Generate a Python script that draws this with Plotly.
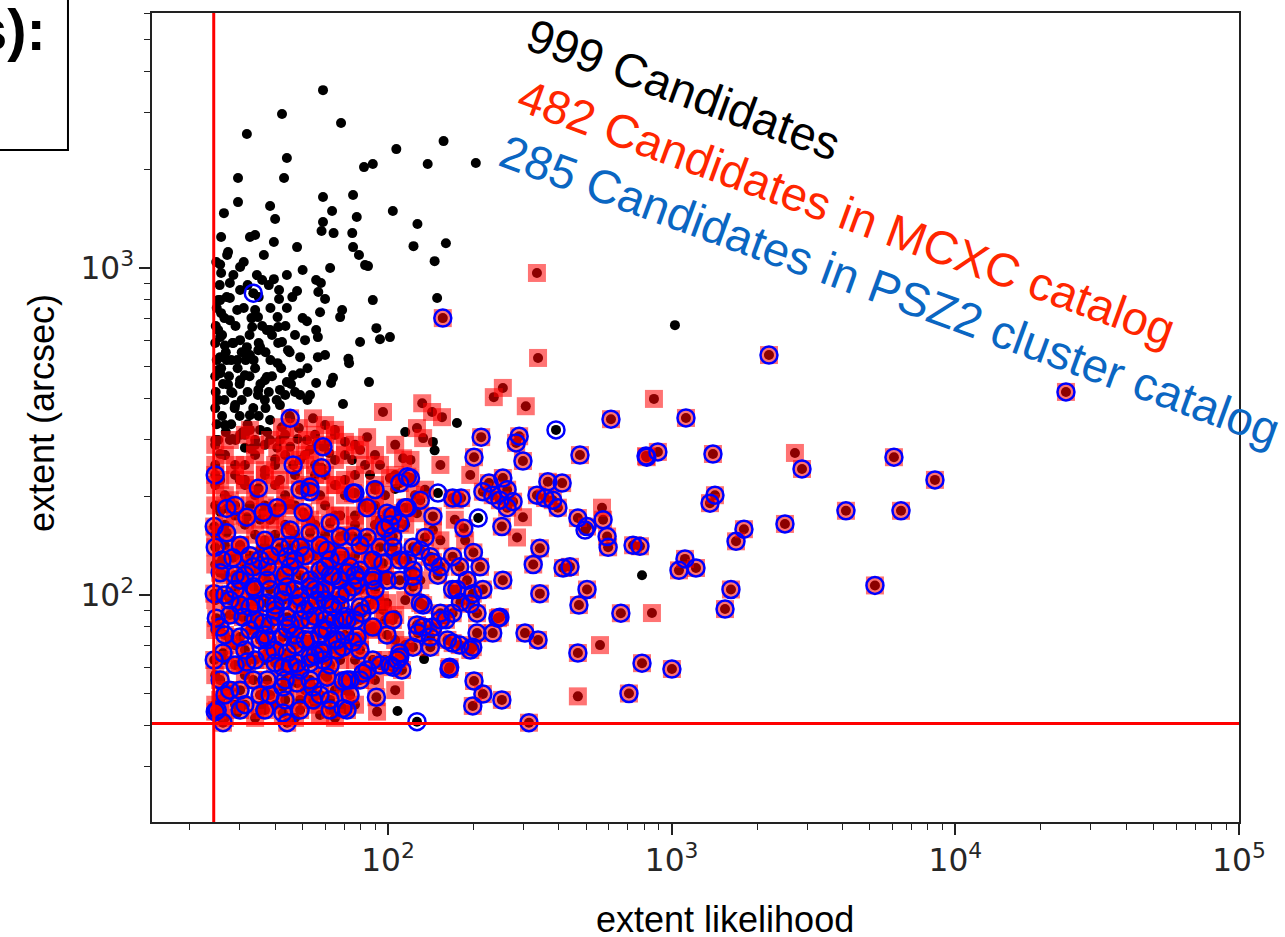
import plotly.graph_objects as go

# Selection thresholds
LIK_CUT = 24.3
EXT_CUT = 40.5

# (extent likelihood, extent [arcsec]) of candidates in neither catalogue
other = [
    (59, 3500), (42.3, 2958), (68.3, 2776), (31.8, 2569), (157, 2445), (107, 2311), (44, 2170),
    (82.3, 2036), (88.4, 2080), (138, 2080), (204, 2095), (29.6, 1885), (43, 1885), (59, 1649),
    (75.3, 1672), (29.6, 1591), (38.4, 1548), (63.5, 1494), (104, 1494), (26.4, 1472), (40, 1412),
    (77.6, 1432), (127, 1364), (59, 1383), (58.3, 1298), (64.3, 1279), (74.8, 1279), (25.8, 1244),
    (32.6, 1244), (34, 1262), (39.6, 1201), (123, 1167), (160, 1191), (75.3, 1159), (79, 1096),
    (85, 1014), (47.8, 1159), (27.3, 1119), (146, 1050), (30.1, 1007), (62.5, 1000), (50, 986),
    (25.8, 966), (39.6, 925), (55.8, 919), (58, 900), (27.7, 900), (41.3, 857), (47.8, 851),
    (41.3, 804), (56.8, 845), (60, 804), (88.4, 798), (25.6, 798), (27.7, 810), (29.4, 744),
    (25.8, 728), (40.8, 708), (34.8, 708), (68.9, 744), (67.8, 708), (57.6, 733), (51.8, 688),
    (91, 655), (101.6, 615), (93.7, 606), (33.2, 660), (37.4, 646), (41, 660), (55.8, 646),
    (56.6, 615), (79.7, 594), (25.6, 615), (28.3, 590), (31.8, 573), (35.4, 573), (42.3, 594),
    (44.4, 561), (25.6, 534), (29.4, 523), (33.6, 523), (40.8, 512), (49, 534), (56.6, 534),
    (60, 542), (72.9, 512), (49, 477), (25.6, 477), (30.1, 454), (37.4, 464), (44, 448),
    (55.8, 445), (63, 445), (85.7, 448), (28.3, 415), (34.8, 409), (41.6, 424), (53.1, 409),
    (83, 1021), (149, 810), (72.5, 528), (64, 462), (69.4, 384), (175, 336), (115, 315),
    (144, 294), (146, 277), (74.7, 259), (86.4, 233), (106, 211), (1027, 669), (786, 115),
    (134, 63.7), (108, 44.2), (29.4, 43.6), (36.3, 46.2),
    (35.4, 137), (45.2, 190), (28.3, 300), (33, 280), (40, 260), (25.6, 270), (48, 300),
    (56, 290), (62, 272), (30, 225), (25.6, 180),
    (25.2, 646), (26.6, 580), (28, 523), (30.1, 602), (32.6, 542), (25.2, 488), (27.3, 440),
    (31.3, 470), (34.9, 424), (25.2, 395), (28.9, 381), (32.6, 355), (36.8, 395), (38.4, 343),
    (26.6, 331), (30.1, 309), (25.2, 298), (35.4, 320), (43.4, 409), (41.6, 298), (49, 409),
    (36.8, 454), (34.9, 561), (38.4, 646), (27.7, 693), (34, 744), (25.2, 798), (30.1, 857),
    (36, 919), (25.6, 1026), (46.3, 470), (51, 602), (41.6, 381), (26.6, 268), (31.3, 282),
    (36.8, 288),
    (27.1, 1096), (36.5, 1096), (24.8, 1043), (31, 1043), (28.5, 952), (34.5, 952), (44, 952),
    (25.5, 887), (32, 887), (38, 887), (27, 815), (35, 815), (46, 815), (24.9, 755), (31, 755),
    (38.5, 755), (44, 755), (26.5, 703), (33, 703), (50, 703), (24.7, 665), (29, 665), (36, 665),
    (43.5, 665), (26, 624), (32.5, 624), (39, 624), (47, 624), (24.6, 590), (28.5, 590),
    (35, 590), (41, 590), (26.8, 553), (30.5, 553), (37, 553), (45, 553), (24.9, 523), (27, 523),
    (31.5, 523), (38.5, 523), (25.8, 494), (29.5, 494), (34, 494), (42, 494), (52, 494),
    (24.6, 467), (27.5, 467), (32.5, 467), (39, 467), (26.2, 442), (30, 442), (35.5, 442),
    (45.5, 442), (24.7, 418), (28, 418), (32, 418), (38, 418), (47, 418), (26.5, 395),
    (30.5, 395), (40.5, 395), (52, 395), (24.6, 373), (28.8, 373), (33.5, 373), (37, 373),
    (26, 353), (30, 353), (35, 353), (45, 353), (24.9, 333), (28, 333), (32, 333), (26.8, 315),
    (30.8, 315), (37.5, 315), (24.6, 298), (29, 298), (34, 298),
]

# candidates matched only in MCXC
mcxc_only = [
    (866, 398), (2720, 272), (852, 88.1), (559, 70.3), (467, 49), (335, 966), (338, 531),
    (254, 430), (236, 403), (132, 386), (306, 378), (96, 363), (143, 363), (155, 350),
    (126.5, 324), (133, 302), (84.4, 304), (70.5, 294), (113, 262), (101.6, 228), (65.5, 217),
    (299, 173), (285, 150), (568, 185), (91.5, 44), (96, 90), (86.4, 79), (61, 140),
    (75.3, 71.3), (99.2, 94.5), (126.5, 178), (144, 158), (54.4, 347), (48.5, 324), (42.3, 326),
    (45.2, 284), (40.7, 282), (51.8, 298),
    (34, 268), (28.9, 250), (25.6, 225), (31.3, 225), (36.8, 241), (27.7, 195), (32.6, 188),
    (38.4, 170), (26.6, 164), (30.1, 142), (35.4, 170), (43.4, 188), (41.6, 225), (49, 259),
    (55.3, 233), (65, 259), (70.5, 225), (79.7, 278), (65, 320), (57.6, 202), (67.8, 175),
    (76.5, 164), (90, 188), (93.7, 170), (53.1, 170), (47, 153), (57.6, 137), (70.5, 132),
    (86.4, 132), (34, 119), (40, 128), (49, 128), (62.5, 124), (79.7, 104), (93.7, 96.5),
    (30.1, 96.5), (41.6, 115), (27.7, 72.9), (34, 86.9), (38.4, 67.9), (49, 81), (67.8, 63.3),
    (79.7, 72.9), (30.1, 61.1), (25.6, 47.8), (35.4, 44.5), (49, 47.8), (57.6, 43), (70.5, 51.2),
    (90, 55), (106, 72.9), (97.6, 83.9), (115, 96.5), (130, 111), (153, 147), (172, 170),
    (187, 147), (135, 210), (153, 250), (172, 195), (195, 233), (93.7, 250), (106, 288),
    (120, 259), (27.7, 298), (32.6, 320), (38.4, 298), (53.1, 278), (60, 331),
    (31.3, 309), (43.4, 309), (55.3, 309), (65, 309), (24.6, 288), (34, 288), (60, 288),
    (76.5, 288), (26.6, 268), (43.4, 268), (51, 268), (70.5, 268), (90, 268), (24.6, 250),
    (31.3, 250), (40, 250), (55.3, 250), (83, 250), (28.9, 233), (36.8, 233), (47, 233),
    (60, 233), (76.5, 233), (106, 233), (24.6, 217), (31.3, 217), (40, 217), (51, 217),
    (65, 217), (90, 217), (26.6, 202), (34, 202), (43.4, 202), (70.5, 202), (97.6, 202),
    (124.5, 202), (24.6, 188), (36.8, 188), (47, 188), (60, 188), (83, 188), (28.9, 175),
    (40, 175), (51, 175), (65, 175), (76.5, 175), (106, 175), (31.3, 164), (43.4, 164),
    (55.3, 164), (90, 164), (115, 164), (24.6, 153), (34, 153), (40, 153), (60, 153),
    (70.5, 153), (97.6, 153), (26.6, 142), (36.8, 142), (51, 142), (65, 142), (83, 142),
    (28.9, 132), (40, 132), (55.3, 132), (76.5, 132), (106, 132), (24.6, 124), (31.3, 124),
    (47, 124), (65, 124), (90, 124), (26.6, 115), (36.8, 115), (55.3, 115), (70.5, 115),
    (97.6, 115), (31.3, 107), (43.4, 107), (60, 107), (83, 107), (24.6, 96.5), (34, 96.5),
    (47, 96.5), (65, 96.5), (90, 96.5), (28.9, 86.9), (40, 86.9), (55.3, 86.9), (76.5, 86.9),
    (106, 86.9), (24.6, 78.2), (34, 78.2), (47, 78.2), (60, 78.2), (90, 78.2), (28.9, 70.3),
    (40, 70.3), (51, 70.3), (65, 70.3), (115, 70.3), (26.6, 63.3), (36.8, 63.3), (43.4, 63.3),
    (76.5, 63.3), (97.6, 63.3), (24.6, 56.9), (31.3, 56.9), (47, 56.9), (60, 56.9), (83, 56.9),
    (26.6, 51.2), (36.8, 51.2), (51, 51.2), (65, 51.2), (106, 51.2), (24.6, 46.2), (28.9, 46.2),
    (40, 46.2), (55.3, 46.2), (76.5, 46.2), (26.6, 42.1), (34, 42.1), (47, 42.1), (65, 42.1),
]

# candidates matched only in PSZ2
psz2_only = [
    (33.5, 838), (391, 320), (150, 205), (208, 172), (126.5, 41), (495, 158),
]

# candidates matched in both catalogues
both = [
    (2203, 542), (24547, 418), (1123, 348), (812, 266), (894, 274), (1398, 270), (2880, 243),
    (6075, 264), (8475, 225), (1421, 202), (1365, 191), (4115, 181), (6433, 181), (2508, 165),
    (1798, 159), (1686, 146), (773, 141), (1114, 129), (1061, 119), (1218, 121), (1618, 104),
    (1542, 90.6), (5207, 107), (786, 61.9), (1002, 59.4), (707, 50),
    (156, 703), (611, 345), (213, 304), (201, 264), (290, 306), (283, 292), (299, 257),
    (475, 268), (817, 264), (120, 228), (169, 198), (181, 198), (216, 207), (234, 202),
    (248, 195), (263, 185), (254, 228), (227, 220), (335, 202), (358, 198), (397, 185),
    (411, 220), (76.5, 205), (84.4, 185), (115, 185), (104, 175), (101.6, 164), (144, 174),
    (252, 162), (467, 172), (503, 162), (573, 170), (592, 151), (597, 140), (731, 142), (343, 139),
    (471, 93.2), (662, 88), (467, 66.5), (314, 40.7), (252, 47.8), (216, 49.8), (199, 45.8),
    (201, 54.6), (164, 59.4), (199, 69.3), (338, 72.9), (304, 76.5), (244, 85), (234, 76.5),
    (206, 76.5), (179, 70.3), (195, 67.9), (169, 88), (195, 94), (108, 63.3), (112, 59),
    (101.6, 61), (88.4, 63.3), (81.6, 57.7), (69.4, 54.6), (91, 48.7), (69.4, 45), (104, 83.9),
    (126.5, 81), (133, 93.2), (153, 88), (141, 74.4), (127.5, 76.5), (75.3, 71.8), (81, 88),
    (69.4, 83.9),
    (414, 121), (438, 122), (503, 104), (343, 101), (254, 111), (248, 85.6), (381, 195),
    (263, 210), (276, 193), (366, 222), (325, 124), (169, 131), (179, 122), (211, 122),
    (190, 111), (199, 101), (216, 104), (175, 104), (206, 88), (169, 71.3), (130, 94.5),
    (144, 79.8), (153, 83.9), (122.5, 106), (141, 131), (117, 128), (104, 140), (122.5, 140),
    (144, 126), (110, 220), (88.4, 111), (77.8, 111), (88.4, 79.8), (110, 66.5), (69.4, 69.3),
    (73.5, 55),
    (34.9, 212), (49, 210), (53.1, 207), (75.3, 205), (27, 184), (31.8, 173), (36.3, 179),
    (40.7, 185), (50.2, 179), (117, 185), (99.2, 178), (110, 166),
    (24.4, 162), (27, 155), (45.2, 158), (62.5, 166), (53.1, 155), (67.8, 151), (75.3, 151),
    (84.4, 150), (93.7, 140), (104, 151), (41.6, 140), (49, 140), (44.1, 131), (61, 137),
    (110, 128), (122.5, 119), (153, 122), (130, 137),
    (28.4, 130), (37.5, 122), (25.6, 117), (30.1, 111), (33.5, 106), (44.1, 106), (53.1, 106),
    (64, 114), (71.7, 117), (79.7, 119), (88.4, 114), (75.3, 106), (99.2, 111), (110, 111),
    (122.5, 114), (24.4, 101), (169, 104),
    (27.7, 96.5), (32.6, 91.9), (37.5, 94.5), (42.6, 96.5), (49, 98.6), (56.2, 96.5), (64, 91.9),
    (71.7, 83.9), (79.7, 91.9), (30.8, 85.6), (36.3, 82.2), (44.1, 85.6), (53.1, 83.9),
    (25.6, 79.8), (30.1, 74.4), (42.6, 74.4), (61, 78.2), (66.1, 72.9), (77.8, 74.4),
    (24.4, 63.3), (26.2, 66.5), (31.8, 62.4), (37.5, 66.5), (42.6, 60.2), (47.8, 61.9),
    (53.1, 64.6), (59, 63.3), (66.1, 67.9), (71.7, 55), (25.6, 55), (30.1, 51.2), (37.5, 55),
    (42.6, 52.3), (47.8, 53.8), (54.4, 52.3), (61, 56.1), (84.4, 59), (104, 60.2), (110, 64.6),
    (122.5, 69.3), (141, 69.3), (162, 72.9), (165, 60.2), (133, 79.8),
    (25, 44.5), (26.2, 40.7), (42.6, 43.6), (44.1, 40.7), (54.4, 47.8), (71.7, 44.5),
    (49, 115), (55.3, 104), (60, 96.5), (51, 90), (45.2, 81), (57.6, 75.5), (65, 83.9),
    (47, 70.3), (53.1, 72.9), (40, 90), (38.4, 104), (57.6, 119), (67.8, 100), (55.3, 65.5),
    (35.4, 72.9), (38.4, 81), (32.6, 78.2), (27.7, 86.9), (28.9, 115), (26.6, 100),
    (32.6, 132), (36.8, 147), (28.9, 188), (24.6, 233), (26, 128), (49, 59), (35.4, 49.5),
    (31.3, 46.2), (43.4, 47.8), (62.5, 47.8), (27.7, 51.2), (34, 63.3),
    (53.1, 214), (46.3, 250), (58.3, 245), (59, 284), (45.2, 347), (117, 230),
    (24.6, 140), (24.8, 85), (24.6, 44),
    (30.1, 142), (45.2, 142), (57.6, 142), (79.7, 142), (35.4, 128), (47, 128), (62.5, 128),
    (88.4, 128), (31.3, 115), (43.4, 115), (62.5, 115), (76.5, 115), (28.9, 104), (34, 104),
    (47, 104), (60, 104), (90, 104), (30.1, 93.2), (40, 93.2), (53.1, 93.2), (67.8, 93.2),
    (86.4, 93.2), (34, 83.9), (49, 83.9), (60, 83.9), (76.5, 83.9), (26.6, 75.5), (36.8, 75.5),
    (47, 75.5), (70.5, 75.5), (99.2, 75.5), (31.3, 67.9), (40, 67.9), (57.6, 67.9), (79.7, 67.9),
    (28.9, 61.1), (45.2, 61.1), (62.5, 61.1), (93.7, 61.1), (33.5, 55), (43.4, 55), (53.1, 55),
    (79.7, 55), (26.6, 49.5), (38.4, 49.5), (57.6, 49.5), (73.5, 49.5), (30.1, 44.5),
    (36.8, 44.5), (49, 44.5), (62.5, 44.5),
    (38.4, 132), (51, 132), (67.8, 132), (33.5, 122), (45.2, 122), (60, 122), (73.5, 122),
    (37.5, 111), (53.1, 111), (67.8, 111), (42.6, 102), (57.6, 102), (71.7, 102), (34, 94),
    (47.8, 94), (62.5, 94), (40, 86), (55.3, 86), (70.5, 86), (44.1, 79), (59, 79), (37.5, 73),
    (51, 73), (64, 73), (44.1, 66.5), (59, 66.5), (40, 62), (53.1, 62),
    (90, 210), (130, 195), (97.6, 160), (135, 150), (185, 160), (200, 135), (150, 115),
    (180, 95), (96, 125), (160, 84),
]

# Text labels
LABEL_ALL = "999 Candidates"
LABEL_MCXC = "482 Candidates in MCXC catalog"
LABEL_PSZ2 = "285 Candidates in PSZ2 cluster catalog"
X_TITLE = "extent likelihood"
Y_TITLE = "extent (arcsec)"
SLIDE_TEXT = "s):"


def col(points, i):
    return [p[i] for p in points]


all_pts = other + mcxc_only + psz2_only + both
mcxc_pts = mcxc_only + both
psz2_pts = psz2_only + both

fig = go.Figure()

# every candidate as a black dot
fig.add_trace(go.Scatter(
    x=col(all_pts, 0), y=col(all_pts, 1), mode="markers",
    marker=dict(color="black", size=10, line=dict(width=0)),
    hoverinfo="skip",
))
# MCXC matches: translucent red squares
fig.add_trace(go.Scatter(
    x=col(mcxc_pts, 0), y=col(mcxc_pts, 1), mode="markers",
    marker=dict(symbol="square", color="rgba(255,0,0,0.55)", size=18, line=dict(width=0)),
    hoverinfo="skip",
))
# PSZ2 matches: open blue circles
fig.add_trace(go.Scatter(
    x=col(psz2_pts, 0), y=col(psz2_pts, 1), mode="markers",
    marker=dict(symbol="circle-open", color="#0000ff", size=17,
                line=dict(width=2.5, color="#0000ff")),
    hoverinfo="skip",
))
# threshold lines
fig.add_trace(go.Scatter(
    x=[LIK_CUT, LIK_CUT], y=[1, 1e5], mode="lines",
    line=dict(color="#ff0000", width=3), hoverinfo="skip",
))
fig.add_trace(go.Scatter(
    x=[1, 1e6], y=[EXT_CUT, EXT_CUT], mode="lines",
    line=dict(color="#ff0000", width=3), hoverinfo="skip",
))

axis_common = dict(
    type="log", dtick=1, exponentformat="power",
    showline=True, mirror=True, linecolor="#222", linewidth=1.8,
    ticks="outside", ticklen=11, tickwidth=1.5, tickcolor="#222",
    tickfont=dict(family="DejaVu Sans", size=25, color="#262626"),
    showgrid=False, zeroline=False,
    minor=dict(ticks="outside", ticklen=6, tickwidth=1.2, tickcolor="#222",
               dtick="D1", showgrid=False),
)
fig.update_xaxes(range=[1.168, 5.0], **axis_common)
fig.update_yaxes(range=[1.306, 3.780], **axis_common)

annotations = [
    dict(text=LABEL_ALL, x=0.4894, y=0.9060, textangle=20,
         font=dict(family="Liberation Sans", size=47, color="#000000")),
    dict(text=LABEL_MCXC, x=0.6385, y=0.7528, textangle=20,
         font=dict(family="Liberation Sans", size=47, color="#ff2600")),
    dict(text=LABEL_PSZ2, x=0.6789, y=0.6564, textangle=20,
         font=dict(family="Liberation Sans", size=47, color="#0a66c2")),
    dict(text=X_TITLE, x=0.5271, y=-0.1211,
         font=dict(family="Liberation Sans", size=36, color="#000000")),
    dict(text=Y_TITLE, x=-0.1012, y=0.5056, textangle=-90,
         font=dict(family="Liberation Sans", size=36, color="#000000")),
    dict(text="<b>" + SLIDE_TEXT + "</b>", x=-0.0957, y=0.9802, xanchor="right",
         font=dict(family="Liberation Sans", size=58, color="#000000")),
]
for a in annotations:
    a.setdefault("xanchor", "center")
    a.setdefault("yanchor", "middle")
    a.update(xref="paper", yref="paper", showarrow=False)

fig.update_layout(
    width=1285, height=937,
    margin=dict(l=152, r=46, t=13, b=115),
    paper_bgcolor="white", plot_bgcolor="white",
    showlegend=False,
    annotations=annotations,
    shapes=[dict(type="rect", xref="paper", yref="paper",
                 x0=-0.3, x1=-0.0773, y0=0.8307, y1=1.1,
                 line=dict(color="black", width=2), fillcolor="rgba(0,0,0,0)")],
)

fig.write_html("out.html")
